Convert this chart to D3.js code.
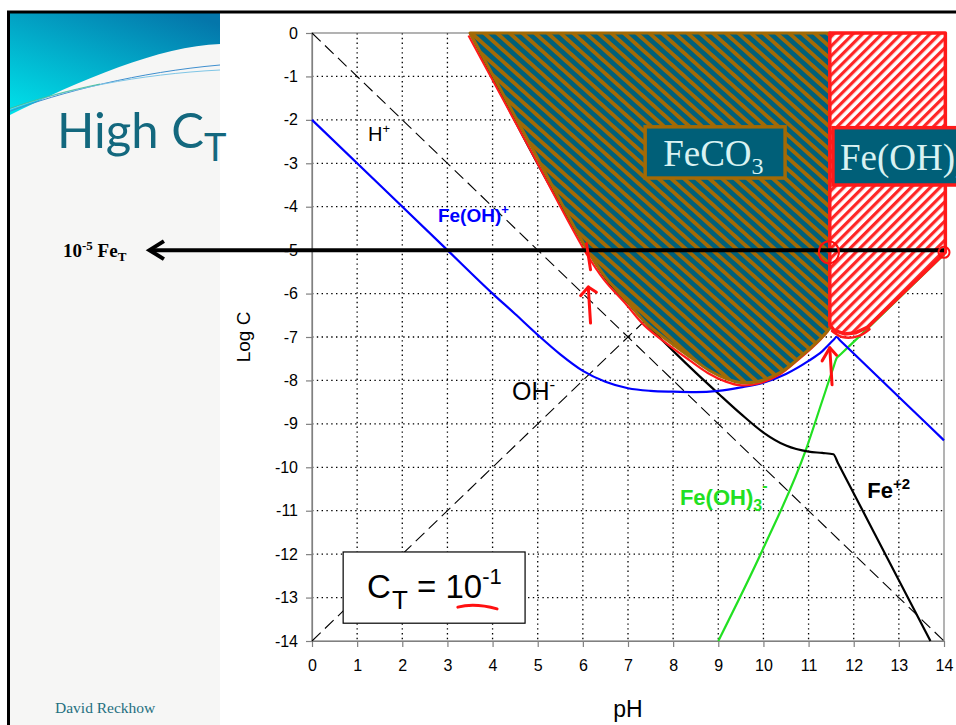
<!DOCTYPE html>
<html><head><meta charset="utf-8">
<script src="https://cdn.jsdelivr.net/npm/d3@7"></script>
<style>html,body{margin:0;padding:0;background:#fff;overflow:hidden}svg{display:block}</style>
</head><body>
<script>
// ---------- data ----------
const xTicks = [0,1,2,3,4,5,6,7,8,9,10,11,12,13,14];
const yTicks = [0,-1,-2,-3,-4,-5,-6,-7,-8,-9,-10,-11,-12,-13,-14];
const hPlus = [[0,0],[14,-14]];
const ohMinus = [[0,-14],[14,0]];
const feOHplus = [[0,-2],[3,-5],[4,-6],[4.5,-6.47],[5,-6.95],[5.5,-7.4],[6,-7.78],[6.5,-8.03],[7,-8.18],[7.5,-8.24],[8,-8.26],[8.5,-8.27],[9,-8.24],[9.5,-8.16],[10,-8.05],[10.5,-7.85],[11,-7.55],[11.3,-7.33],[11.55,-7.07],[11.62,-7.0],[11.7,-7.08],[12,-7.38],[13,-8.38],[14,-9.38]];
const fe2 = [[3.5,0],[6.1,-5],[6.5,-5.65],[7,-6.22],[7.5,-6.8],[8,-7.32],[8.5,-7.82],[9,-8.3],[9.5,-8.77],[10,-9.2],[10.5,-9.5],[11,-9.64],[11.3,-9.67],[11.55,-9.7],[11.65,-9.9],[13.7,-14]];
const feOH3minus = [[9,-14],[10,-11.86],[10.94,-9.6],[11.3,-8.48],[11.55,-7.7],[11.62,-7.49],[11.7,-7.41],[12.43,-6.68],[14,-5.1]];
const feco3Boundary = [[3.5,0],[4.8,-2.5],[6.1,-5],[6.5,-5.62],[7,-6.2],[7.4,-6.68],[7.9,-7.1],[8.4,-7.48],[8.8,-7.77],[9.2,-7.97],[9.5,-8.05],[9.9,-8.02],[10.4,-7.8],[10.8,-7.47],[11.1,-7.2],[11.3,-7.0],[11.47,-6.8]];
const feoh2Region = [[11.47,0],[14.03,0],[14.03,-5.05],[12.3,-6.78],[12.05,-6.9],[11.8,-6.93],[11.57,-6.85],[11.47,-6.72]];
const feTLevel = -5;

// ---------- setup ----------
const W = 956, H = 725;
const svg = d3.select("body").append("svg").attr("width", W).attr("height", H);
const x = d3.scaleLinear().domain([0,14]).range([312,944]);
const y = d3.scaleLinear().domain([0,-14]).range([33,641]);
const defs = svg.append("defs");

const grad = defs.append("linearGradient").attr("id","sw").attr("x1","0.85").attr("y1","0").attr("x2","0.1").attr("y2","1");
grad.append("stop").attr("offset","0").attr("stop-color","#0476aa");
grad.append("stop").attr("offset","1").attr("stop-color","#00dfe8");

const p1 = defs.append("pattern").attr("id","hatchFe").attr("patternUnits","userSpaceOnUse")
  .attr("width",8.5).attr("height",8.5).attr("patternTransform","rotate(-48)");
p1.append("rect").attr("width",8.5).attr("height",8.5).attr("fill","#00607a");
p1.append("rect").attr("width",3.8).attr("height",8.5).attr("fill","#a36a05");

const p2 = defs.append("pattern").attr("id","hatchRed").attr("patternUnits","userSpaceOnUse")
  .attr("width",6.8).attr("height",6.8).attr("patternTransform","rotate(45)");
p2.append("rect").attr("width",6.8).attr("height",6.8).attr("fill","#fff");
p2.append("rect").attr("width",3.2).attr("height",6.8).attr("fill","#ff2626");

// ---------- slide background ----------
svg.append("rect").attr("x",0).attr("y",0).attr("width",W).attr("height",H).attr("fill","#fff");
svg.append("rect").attr("x",8).attr("y",12).attr("width",212).attr("height",H).attr("fill","#f6f6f5");
svg.append("path").attr("d","M8,13 H220 V44 C160,46 80,80 8,116 Z").attr("fill","url(#sw)");
svg.append("path").attr("d","M8,112 C60,92 140,72 220,65").attr("fill","none").attr("stroke","#3f8fcf").attr("stroke-width",1);
svg.append("path").attr("d","M8,110 C60,90 140,74 220,70").attr("fill","none").attr("stroke","#7fc6e6").attr("stroke-width",1);
svg.append("path").attr("d","M8,109 C40,98 70,90 100,84").attr("fill","none").attr("stroke","#40c090").attr("stroke-width",0.8);
svg.append("rect").attr("x",220).attr("y",14).attr("width",W-220).attr("height",H-14).attr("fill","#fff");
svg.append("line").attr("x1",7).attr("x2",W).attr("y1",12).attr("y2",12).attr("stroke","#000").attr("stroke-width",3);
svg.append("line").attr("x1",8.5).attr("x2",8.5).attr("y1",11).attr("y2",H).attr("stroke","#000").attr("stroke-width",3);

function rich(sel, px, py, parts, attrs) {
  const t = sel.append("text").attr("x", px).attr("y", py);
  Object.entries(attrs || {}).forEach(([k,v]) => t.attr(k, v));
  let cur = 0;
  parts.forEach(([s, size, off, dx]) => {
    const sp = t.append("tspan").text(s).attr("font-size", size);
    sp.attr("dy", (off || 0) - cur); cur = off || 0;
    if (dx) sp.attr("dx", dx);
  });
  return t;
}

rich(svg, 57, 148, [["High C",49],["T",38,13]], {"font-family":"Lato, 'Open Sans', sans-serif","fill":"#13687e"});
svg.append("text").attr("x",55).attr("y",713).attr("font-family","'Liberation Serif', 'Times New Roman', serif")
  .attr("font-size",15.5).attr("fill","#1f6f80").text("David Reckhow");

// ---------- grid ----------
const grid = svg.append("g").attr("stroke","#000").attr("stroke-width",1.3).attr("stroke-dasharray","1.4,3.4");
xTicks.filter(d => d > 0 && d < 14).forEach(d => grid.append("line").attr("x1",x(d)).attr("x2",x(d)).attr("y1",y(0)).attr("y2",y(-14)));
yTicks.filter(d => d < 0 && d > -14).forEach(d => grid.append("line").attr("x1",x(0)).attr("x2",x(14)).attr("y1",y(d)).attr("y2",y(d)));

// plot frame
svg.append("rect").attr("x",x(0)).attr("y",y(0)).attr("width",x(14)-x(0)).attr("height",y(-14)-y(0))
  .attr("fill","none").attr("stroke","#808080").attr("stroke-width",1.2);

// ---------- axes ----------
const font = "'Liberation Sans', Arial, sans-serif";
const ax = svg.append("g").attr("transform",`translate(0,${y(-14)})`)
  .call(d3.axisBottom(x).tickValues(xTicks).tickFormat(d3.format("d")).tickSize(6).tickSizeOuter(0).tickPadding(13));
const ay = svg.append("g").attr("transform",`translate(${x(0)},0)`)
  .call(d3.axisLeft(y).tickValues(yTicks).tickFormat(d3.format("d")).tickSize(6).tickSizeOuter(0).tickPadding(8));
[ax, ay].forEach(a => {
  a.select(".domain").attr("stroke","#808080").attr("stroke-width",1.2);
  a.selectAll(".tick line").attr("stroke","#808080").attr("stroke-width",1.2);
  a.selectAll("text").attr("font-family",font).attr("font-size",16).attr("fill","#000");
});
ay.selectAll("text").text(d => d === 0 ? "0" : "-" + Math.abs(d));

svg.append("text").attr("x",628).attr("y",717).attr("text-anchor","middle").attr("font-family",font).attr("font-size",23).text("pH");
svg.append("text").attr("transform","translate(250,337) rotate(-90)").attr("text-anchor","middle").attr("font-family",font).attr("font-size",19).text("Log C");

// ---------- lines ----------
const lin = d3.line().x(d => x(d[0])).y(d => y(d[1]));
const smooth = d3.line().x(d => x(d[0])).y(d => y(d[1])).curve(d3.curveMonotoneX);
svg.append("path").attr("d", lin(hPlus)).attr("fill","none").attr("stroke","#000").attr("stroke-width",1.1).attr("stroke-dasharray","12,6");
svg.append("path").attr("d", lin(ohMinus)).attr("fill","none").attr("stroke","#000").attr("stroke-width",1.1).attr("stroke-dasharray","12,6");
svg.append("path").attr("d", smooth(feOH3minus)).attr("fill","none").attr("stroke","#22e022").attr("stroke-width",2.2);
svg.append("path").attr("d", smooth(fe2)).attr("fill","none").attr("stroke","#000").attr("stroke-width",2.2);
svg.append("path").attr("d", smooth(feOHplus)).attr("fill","none").attr("stroke","#0000ff").attr("stroke-width",2.2);

// ---------- regions ----------
const cr = d3.line().x(d => x(d[0])).y(d => y(d[1])).curve(d3.curveCatmullRom.alpha(0.5));
svg.append("path").attr("d", cr(feco3Boundary)).attr("transform","translate(-1.5,2.5)")
  .attr("fill","none").attr("stroke","#ff1a1a").attr("stroke-width",2.2);
const last = feco3Boundary[feco3Boundary.length-1];
svg.append("path").attr("d", cr(feco3Boundary) + `L${x(last[0])},${y(0)}Z`)
  .attr("fill","url(#hatchFe)").attr("stroke","#a36a05").attr("stroke-width",3).attr("stroke-linejoin","round");
svg.append("path").attr("d", lin(feoh2Region) + "Z")
  .attr("fill","url(#hatchRed)").attr("stroke","#ff1a1a").attr("stroke-width",3.5).attr("stroke-linejoin","round");
svg.append("path").attr("d", cr([[11.52,-6.86],[11.75,-7.0],[12.1,-6.98],[12.35,-6.82]]))
  .attr("fill","none").attr("stroke","#ff1a1a").attr("stroke-width",2.5).attr("stroke-linecap","round");

// label boxes
const lab = svg.append("g");
lab.append("rect").attr("x",x(7.38)).attr("y",y(-2.16)).attr("width",x(10.48)-x(7.38)).attr("height",y(-3.34)-y(-2.16))
  .attr("fill","#005f78").attr("stroke","#a36a05").attr("stroke-width",3.5);
rich(lab, x(7.38)+18, y(-3.07), [["FeCO",37],["3",24,8]], {"font-family":"'Liberation Serif', 'Times New Roman', serif","fill":"#d9f2f2"});
lab.append("rect").attr("x",x(11.54)).attr("y",y(-2.18)).attr("width",x(14.6)-x(11.54)).attr("height",y(-3.5)-y(-2.18))
  .attr("fill","#005f78").attr("stroke","#ff1a1a").attr("stroke-width",3.5);
rich(lab, x(11.54)+7, y(-3.16), [["Fe(OH)",37],["2",24,8]], {"font-family":"'Liberation Serif', 'Times New Roman', serif","fill":"#d9f2f2"});

// ---------- FeT arrow ----------
svg.append("line").attr("x1",x(-3.55)).attr("x2",x(14)).attr("y1",y(feTLevel)).attr("y2",y(feTLevel)).attr("stroke","#000").attr("stroke-width",4);
svg.append("path").attr("d",`M${x(-3.28)},${y(feTLevel)-9}L${x(-3.6)},${y(feTLevel)}L${x(-3.28)},${y(feTLevel)+9}`)
  .attr("fill","none").attr("stroke","#000").attr("stroke-width",4).attr("stroke-linejoin","miter");
rich(svg, 63, 257, [["10",19],["-5",13,-7],[" Fe",19,0],["T",13,4]], {"font-family":"'Liberation Serif', 'Times New Roman', serif","font-weight":"bold","fill":"#000"});

// ---------- red hand annotations ----------
const red = svg.append("g").attr("fill","none").attr("stroke","#ff1010").attr("stroke-width",3).attr("stroke-linecap","round").attr("stroke-linejoin","round");
red.append("path").attr("d",`M${x(6.08)},${y(-4.85)}L${x(6.17)},${y(-5.45)}`);
red.append("path").attr("d",`M${x(6.17)},${y(-6.68)}L${x(6.12)},${y(-5.85)}`);
red.append("path").attr("d",`M${x(5.95)},${y(-6.05)}L${x(6.12)},${y(-5.85)}L${x(6.3)},${y(-5.97)}`);
red.append("path").attr("d",`M${x(11.52)},${y(-8.1)}L${x(11.47)},${y(-7.25)}`);
red.append("path").attr("d",`M${x(11.3)},${y(-7.55)}L${x(11.47)},${y(-7.25)}L${x(11.62)},${y(-7.42)}`);
red.append("ellipse").attr("cx",x(11.45)).attr("cy",y(-5.05)).attr("rx",10).attr("ry",11).attr("stroke-width",2);
red.append("circle").attr("cx",x(14)).attr("cy",y(-5.05)).attr("r",5.5).attr("stroke-width",2);

// ---------- CT box ----------
svg.append("rect").attr("x",x(0.69)).attr("y",y(-11.95)).attr("width",x(4.72)-x(0.69)).attr("height",y(-13.59)-y(-11.95))
  .attr("fill","#fff").attr("stroke","#000").attr("stroke-width",1.2);
rich(svg, x(1.22), y(-13.01), [["C",33],["T",26,11,1],[" = 10",33,0],["-1",22,-14]], {"font-family":font,"fill":"#000"});
svg.append("path").attr("d",`M${x(3.23)},${y(-13.22)}Q${x(3.6)},${y(-13.12)} ${x(4.1)},${y(-13.26)}`)
  .attr("fill","none").attr("stroke","#ff1010").attr("stroke-width",3).attr("stroke-linecap","round");

// ---------- species labels ----------
rich(svg, x(1.24), y(-2.49), [["H",20],["+",13,-8]], {"font-family":font,"fill":"#000"});
rich(svg, x(2.79), y(-4.35), [["Fe(OH)",19],["+",13,-8]], {"font-family":font,"font-weight":"bold","fill":"#0000ff"});
rich(svg, x(4.43), y(-8.45), [["OH",25],["-",17,-10]], {"font-family":font,"fill":"#000"});
rich(svg, x(8.15), y(-10.87), [["Fe(OH)",22],["3",16,6],["-",16,-14]], {"font-family":font,"font-weight":"bold","fill":"#22e022"});
rich(svg, x(12.3), y(-10.71), [["Fe",22],["+2",15,-9]], {"font-family":font,"font-weight":"bold","fill":"#000"});
</script>
</body></html>
